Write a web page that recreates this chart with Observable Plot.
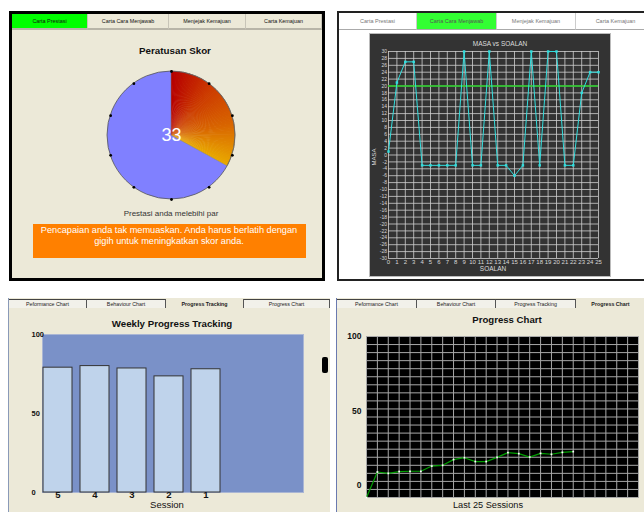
<!DOCTYPE html>
<html><head><meta charset="utf-8">
<script src="https://cdn.jsdelivr.net/npm/d3@7"></script>
<script src="https://cdn.jsdelivr.net/npm/@observablehq/plot@0.6"></script>
<style>
body{margin:0;width:644px;height:512px;overflow:hidden;background:#fff;font-family:"Liberation Sans",Arial,sans-serif;position:relative}
.abs{position:absolute}
.ctr{position:absolute;transform:translate(-50%,-50%);white-space:nowrap}
.tabrow{position:absolute;display:flex}
.tabrow div{box-sizing:border-box;display:flex;align-items:center;justify-content:center;white-space:nowrap;overflow:hidden}
svg{position:absolute;overflow:visible}
</style></head><body>
<script>
// ---------- data ----------
const topTabs = ["Carta Prestasi", "Carta Cara Menjawab", "Menjejak Kemajuan", "Carta Kemajuan"];
const bottomTabs = ["Peformance Chart", "Behaviour Chart", "Progress Tracking", "Progress Chart"];

const pieCategories = ["Skor", "Baki"];
const pieValues = [33, 67];
const pieTickCount = 10;
const pieTitle = "Peratusan Skor";
const pieRemark = "Prestasi anda melebihi par";
const pieAdvice = ["Pencapaian anda tak memuaskan. Anda harus berlatih dengan", "gigih untuk meningkatkan skor anda."];

const answerQuestions = [0,1,2,3,4,5,6,7,8,9,10,11,12,13,14,15,16,17,18,19,20,21,22,23,24,25];
const answerTimes = [1,21,27,27,-3,-3,-3,-3,-3,30,-3,-3,30,-3,-3,-6,-3,30,-3,30,30,-3,-3,18,24,24];
const answerPar = 20;
const answerTicksY = [30,28,26,24,22,20,18,16,14,12,10,8,6,4,2,0,-2,-4,-6,-8,-10,-12,-14,-16,-18,-20,-22,-24,-26,-28,-30];

const weeklySessions = ["5", "4", "3", "2", "1", " ", "  "];
const weeklyScores = [79, 80, 78.5, 73.5, 78, 0, 0];
const weeklyTicks = [0, 50, 100];

const progressSessions = [0,1,2,3,4,5,6,7,8,9,10,11,12,13,14,15,16,17,18,19];
const progressScores = [-8, 9.1, 8.2, 9.4, 9.6, 9.6, 13.1, 13.6, 17.4, 18.7, 16.1, 16.1, 18.9, 22.1, 21.4, 19.1, 21.6, 21.0, 22.3, 22.8];
const progressTicks = [0, 50, 100];
const progressGridCols = 25, progressGridRows = 20;

// ---------- helpers ----------
const body = document.body;
function box(x, y, w, h, css) {
  const d = document.createElement("div");
  d.className = "abs";
  Object.assign(d.style, {left: x + "px", top: y + "px", width: w + "px", height: h + "px", boxSizing: "border-box"}, css || {});
  body.appendChild(d);
  return d;
}
function label(txt, x, y, css) {
  const d = document.createElement("div");
  d.className = "ctr";
  d.textContent = txt;
  Object.assign(d.style, {left: x + "px", top: y + "px"}, css || {});
  body.appendChild(d);
  return d;
}
function tabs(names, x, y, widths, h, styleFn) {
  const row = document.createElement("div");
  row.className = "tabrow";
  Object.assign(row.style, {left: x + "px", top: y + "px", height: h + "px"});
  names.forEach((n, i) => {
    const t = document.createElement("div");
    t.textContent = n;
    Object.assign(t.style, {width: widths[i] + "px", height: h + "px"}, styleFn(i));
    row.appendChild(t);
  });
  body.appendChild(row);
}
function place(svg, x, y) {
  svg.style.left = x + "px";
  svg.style.top = y + "px";
  body.appendChild(svg);
}

// ---------- panel 1 : pie ----------
box(9, 11, 316, 270, {background: "#ECE9D8", border: "3px solid #000"});
tabs(topTabs, 12, 14, [76, 81, 77, 76], 16, i => ({
  background: i === 0 ? "#00ff00" : "#ECE9D8",
  borderRight: "1px solid #c8c5b8", borderBottom: "2px solid #b8b5a8",
  fontSize: "5.4px", color: "#111"
}));
label(pieTitle, 175, 50, {fontWeight: "bold", fontSize: "9.8px", color: "#111"});

const pieData = pieCategories.map((c, i) => ({category: c, value: pieValues[i]}));
const pieTicks = d3.range(pieTickCount);
function pieMark(index, scales) {
  const cx = scales.x(0), cy = scales.y(0), r = scales.x(1) - scales.x(0);
  const arcs = d3.pie().sort(null).value(d => d.value)(pieData);
  const g = d3.create("svg:g").attr("transform", `translate(${cx},${cy})`);
  const arc = d3.arc().innerRadius(0).outerRadius(r);
  g.append("path").datum(arcs[1]).attr("d", arc).attr("fill", "#8080ff");
  const a0 = arcs[0].startAngle, a1 = arcs[0].endAngle, n = 80;
  const col = d3.piecewise(d3.interpolateRgb, ["#b60000", "#cc3a00", "#d86400", "#e9a800"]);
  for (let k = 0; k < n; k++) {
    const s = a0 + (a1 - a0) * k / n, e = a0 + (a1 - a0) * (k + 1.5) / n;
    g.append("path").attr("d", d3.arc().innerRadius(0).outerRadius(r).startAngle(s).endAngle(Math.min(e, a1))()).attr("fill", col(k / (n - 1)));
  }
  g.append("circle").attr("r", r).attr("fill", "none").attr("stroke", "#555").attr("stroke-width", 0.8);
  g.append("path").datum(arcs[0]).attr("d", arc).attr("fill", "none").attr("stroke", "#777").attr("stroke-width", 0.5);
  return g.node();
}
const pie = Plot.plot({
  width: 140, height: 140, margin: 6,
  x: {domain: [-1, 1], axis: null}, y: {domain: [-1, 1], axis: null},
  style: {background: "transparent"},
  marks: [
    pieMark,
    Plot.dot(pieTicks, {x: i => Math.sin(2 * Math.PI * i / pieTickCount), y: i => Math.cos(2 * Math.PI * i / pieTickCount), r: 1.4, fill: "#000"}),
    Plot.text([pieValues[0]], {x: 0, y: 0, text: d => String(d), fill: "#fff", fontSize: 18, fontFamily: "Liberation Sans, Arial"})
  ]
});
place(pie, 101, 65);
label(pieRemark, 171, 213, {fontSize: "8px", color: "#333"});
box(33, 224, 273, 34, {background: "#ff8000"});
label(pieAdvice[0], 169, 230, {fontSize: "9.2px", color: "#fff"});
label(pieAdvice[1], 169, 241, {fontSize: "9.2px", color: "#fff"});

// ---------- panel 2 : answering chart ----------
box(337, 11, 320, 270, {background: "#fff", border: "2px solid #222", borderRight: "none"});
tabs(topTabs, 339, 13, [78, 80, 79, 80], 17, i => ({
  background: i === 1 ? "#33ff33" : "#fff",
  borderRight: "1px solid #ccc", borderBottom: "1px solid #aaa",
  fontSize: "5.5px", color: i === 1 ? "#555" : "#777"
}));
box(369, 33, 242, 244, {background: "#333", border: "1px solid #bbb"});
const answers = answerQuestions.map((q, i) => ({q, t: answerTimes[i]}));
const ans = Plot.plot({
  width: 242, height: 244, marginLeft: 19, marginRight: 13, marginTop: 18, marginBottom: 19,
  style: {background: "transparent", color: "#d8d8d8", fontSize: "5px", fontFamily: "Liberation Sans, Arial"},
  x: {domain: [0, 25], axis: null}, y: {domain: [-30, 30], axis: null},
  marks: [
    Plot.ruleX(answerQuestions, {stroke: "#d0d0d0", strokeOpacity: 0.8}),
    Plot.ruleY(answerTicksY, {stroke: "#d0d0d0", strokeOpacity: 0.8}),
    Plot.ruleY([answerPar], {stroke: "#22cc22", strokeWidth: 1.6}),
    Plot.line(answers, {x: "q", y: "t", stroke: "#33dede", strokeWidth: 1}),
    Plot.dot(answers, {x: "q", y: "t", symbol: "square", r: 1.4, fill: "#33dede"}),
    Plot.text(answerQuestions, {x: d => d, text: d => String(d), frameAnchor: "bottom", dy: 5, fontSize: 6, fill: "#d8d8d8"}),
    Plot.text(answerTicksY, {y: d => d, text: d => String(d), frameAnchor: "left", textAnchor: "end", dx: -1.5, fontSize: 5, fill: "#d8d8d8"})
  ]
});
place(ans, 369, 33);
label("MASA vs SOALAN", 500, 43, {fontSize: "6.5px", color: "#ddd"});
label("SOALAN", 493, 268, {fontSize: "6.5px", color: "#ddd"});
label("MASA", 374, 157, {fontSize: "6px", color: "#ddd", transform: "translate(-50%,-50%) rotate(-90deg)"});

// ---------- panel 3 : weekly progress ----------
box(8, 298, 322, 214, {background: "#ECE9D8", borderLeft: "1px solid #8a9ab8"});
tabs(bottomTabs, 9, 299, [78, 79, 78, 86], 9, i => ({
  background: i === 2 ? "#ECE9D8" : "#f2f1ea",
  borderTop: i === 2 ? "none" : "1px solid #444", borderRight: "1px solid #555",
  fontSize: "5.3px", color: "#222", fontWeight: i === 2 ? "bold" : "normal"
}));
label("Weekly Progress Tracking", 172, 323, {fontWeight: "bold", fontSize: "9.7px", color: "#111"});
const weekly = weeklySessions.map((s, i) => ({session: s, score: weeklyScores[i]}));
const wk = Plot.plot({
  width: 330, height: 202, marginLeft: 42, marginRight: 27, marginTop: 24, marginBottom: 20,
  style: {background: "transparent", fontFamily: "Liberation Sans, Arial"},
  x: {domain: weeklySessions, paddingInner: 0.21, paddingOuter: 0.1, align: 0.1, axis: null},
  y: {domain: [0, 100], axis: null},
  marks: [
    Plot.frame({fill: "#7a91c8", stroke: "#aab6d4"}),
    Plot.barY(weekly, {x: "session", y: "score", fill: "#bfd3eb", stroke: d => d.score > 0 ? "#333333" : "#b8c8e4", strokeWidth: 1}),
    Plot.text(weekly.filter(d => d.score > 0), {x: "session", text: "session", frameAnchor: "bottom", dy: 5, fontSize: 9.5, fontWeight: "bold", fill: "#111"}),
    Plot.text(weeklyTicks, {y: d => d, text: d => String(d), frameAnchor: "left", textAnchor: "start", dx: -11, fontSize: 7.5, fontWeight: "bold", fill: "#111"})
  ]
});
place(wk, 0, 310);
label("Session", 167, 504, {fontSize: "9.5px", color: "#111"});
box(322, 357, 6, 16, {background: "#000", borderRadius: "2px"});

// ---------- panel 4 : progress chart ----------
box(336, 298, 308, 214, {background: "#ECE9D8", borderLeft: "1px solid #6a7ab0"});
tabs(bottomTabs, 337, 299, [80, 79, 80, 70], 9, i => ({
  background: i === 3 ? "#ECE9D8" : "#f2f1ea",
  borderTop: i === 3 ? "none" : "1px solid #444", borderRight: "1px solid #555",
  fontSize: "5.3px", color: "#222", fontWeight: i === 3 ? "bold" : "normal"
}));
label("Progress Chart", 507, 319, {fontWeight: "bold", fontSize: "9.6px", color: "#111"});
const progress = progressSessions.map((s, i) => ({s, v: progressScores[i]}));
const yDom = [-8, 100];
const pg = Plot.plot({
  width: 314, height: 202, marginLeft: 36, marginRight: 6, marginTop: 26, marginBottom: 15,
  style: {background: "transparent", fontFamily: "Liberation Sans, Arial"},
  x: {domain: [0, progressGridCols], axis: null}, y: {domain: yDom, axis: null},
  marks: [
    Plot.frame({fill: "#000"}),
    Plot.ruleX(d3.range(progressGridCols + 1), {stroke: "#a8a8a8", strokeWidth: 1}),
    Plot.ruleY(d3.range(progressGridRows + 1).map(i => yDom[0] + i * (yDom[1] - yDom[0]) / progressGridRows), {stroke: "#a8a8a8", strokeWidth: 1}),
    Plot.line(progress, {x: "s", y: "v", stroke: "#00a000", strokeWidth: 1.2}),
    Plot.dot(progress, {x: "s", y: "v", symbol: "square", r: 1, fill: "#fff"}),
    Plot.text(progressTicks, {y: d => d, text: d => String(d), frameAnchor: "left", textAnchor: "end", dx: -5, fontSize: 8.5, fontWeight: "bold", fill: "#111"})
  ]
});
place(pg, 330, 310);
label("Last 25 Sessions", 488, 505, {fontSize: "9.2px", color: "#111"});
</script>
</body></html>
